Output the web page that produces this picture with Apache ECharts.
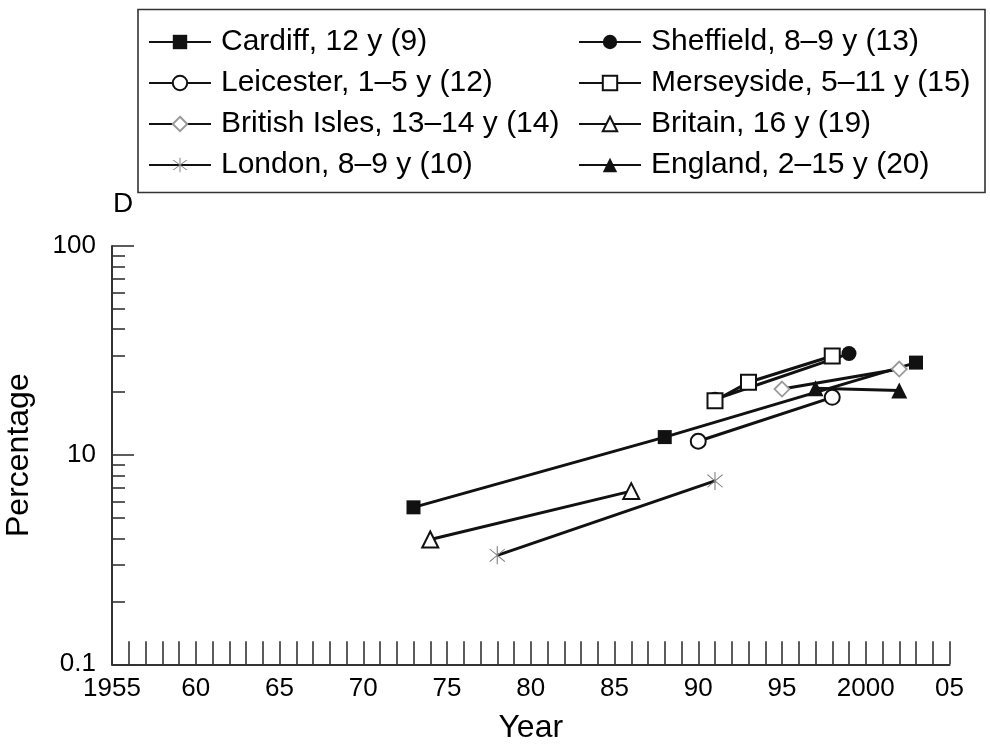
<!DOCTYPE html>
<html><head><meta charset="utf-8">
<script src="https://cdn.jsdelivr.net/npm/echarts@6/dist/echarts.min.js"></script>
<style>html,body{margin:0;padding:0;background:#fff}#c{width:990px;height:747px}</style>
</head><body><div id="c"></div>
<script>
// ---- data ----
const seriesNames = ['Cardiff, 12 y (9)', 'Sheffield, 8–9 y (13)', 'Leicester, 1–5 y (12)', 'Merseyside, 5–11 y (15)',
  'British Isles, 13–14 y (14)', 'Britain, 16 y (19)', 'London, 8–9 y (10)', 'England, 2–15 y (20)'];
const cardiffYears = [1973, 1988, 2003];
const cardiffValues = [5.63, 12.2, 27.7];
const sheffieldYears = [1991, 1999];
const sheffieldValues = [18.5, 30.6];
const leicesterYears = [1990, 1998];
const leicesterValues = [11.65, 18.9];
const merseysideYears = [1991, 1993, 1998];
const merseysideValues = [18.2, 22.3, 29.8];
const britishIslesYears = [1995, 2002];
const britishIslesValues = [20.7, 25.8];
const britainYears = [1974, 1986];
const britainValues = [3.95, 6.73];
const londonYears = [1978, 1991];
const londonValues = [3.32, 7.53];
const englandYears = [1997, 2002];
const englandValues = [20.9, 20.4];

const xTickYears = [1955, 1960, 1965, 1970, 1975, 1980, 1985, 1990, 1995, 2000, 2005];
const xTickLabels = ['1955', '60', '65', '70', '75', '80', '85', '90', '95', '2000', '05'];
const yTickValues = [1, 10, 100];
const yTickLabels = ['0.1', '10', '100'];
const yMinorTickValues = [2, 3, 4, 5, 6, 7, 8, 9, 20, 30, 40, 50, 60, 70, 80, 90];

// ---- chart ----
const FONT = 'Liberation Sans, Arial, sans-serif';
const BLACK = '#111';
const starPath = 'path://M47.5 0L52.5 0L52.5 100L47.5 100Z M16.8 13.2L86.8 83.2L83.2 86.8L13.2 16.8Z M83.2 13.2L86.8 16.8L16.8 86.8L13.2 83.2Z';

function pairs(xs, ys) { return xs.map((x, i) => [x, ys[i]]); }

function line(name, xs, ys, symbol, size, itemStyle) {
  return {
    name, type: 'line', data: pairs(xs, ys), symbol, symbolSize: size,
    showAllSymbol: true,
    lineStyle: { color: BLACK, width: 3 },
    itemStyle: Object.assign({ opacity: 1 }, itemStyle),
    emphasis: { disabled: true },
    z: 3
  };
}

const series = [
  line(seriesNames[0], cardiffYears, cardiffValues, 'rect', 14, { color: BLACK, borderColor: BLACK, borderWidth: 0 }),
  line(seriesNames[1], sheffieldYears, sheffieldValues, 'circle', 15, { color: BLACK, borderColor: BLACK, borderWidth: 0 }),
  line(seriesNames[2], leicesterYears, leicesterValues, 'circle', 15, { color: '#fff', borderColor: BLACK, borderWidth: 2 }),
  line(seriesNames[3], merseysideYears, merseysideValues, 'rect', 15, { color: '#fff', borderColor: BLACK, borderWidth: 2 }),
  line(seriesNames[4], britishIslesYears, britishIslesValues, 'diamond', 15, { color: '#fff', borderColor: '#999', borderWidth: 1.8 }),
  line(seriesNames[5], britainYears, britainValues, 'triangle', 16, { color: '#fff', borderColor: BLACK, borderWidth: 2 }),
  line(seriesNames[6], londonYears, londonValues, starPath, [16, 18], { color: '#808080', borderWidth: 0 }),
  line(seriesNames[7], englandYears, englandValues, 'triangle', 16, { color: BLACK, borderColor: BLACK, borderWidth: 0 })
];

const legendCommon = {
  orient: 'vertical', top: 27, padding: 0,
  itemWidth: 62, itemHeight: 18, itemGap: 11,
  selectedMode: false,
  textStyle: { fontSize: 30, fontFamily: FONT, color: '#000', lineHeight: 30, padding: [0, 0, 0, 5] }
};

const option = {
  animation: false,
  backgroundColor: '#fff',
  grid: { left: 112, right: 40.5, top: 246, bottom: 82.7, containLabel: false, outerBoundsMode: 'none' },
  legend: [
    Object.assign({ left: 148, data: [seriesNames[0], seriesNames[2], seriesNames[4], seriesNames[6]] }, legendCommon),
    Object.assign({ left: 578, data: [seriesNames[1], seriesNames[3], seriesNames[5], seriesNames[7]] }, legendCommon)
  ],
  xAxis: {
    type: 'value', min: 1955, max: 2005, interval: 1,
    name: 'Year', nameLocation: 'middle', nameGap: 48,
    nameTextStyle: { fontSize: 32, fontFamily: FONT, color: '#000' },
    axisLine: { lineStyle: { color: '#333', width: 2 } },
    axisTick: { inside: true, length: 23, lineStyle: { color: '#333', width: 1.6 } },
    axisLabel: {
      margin: 12, fontSize: 26, fontFamily: FONT, color: '#000',
      formatter: v => { const i = xTickYears.indexOf(v); return i >= 0 ? xTickLabels[i] : ''; }
    },
    splitLine: { show: false }
  },
  yAxis: [
    {
      type: 'log', logBase: 10, min: 1, max: 100,
      name: 'Percentage', nameLocation: 'middle', nameGap: 77, nameRotate: 90,
      nameTextStyle: { fontSize: 32, fontFamily: FONT, color: '#000' },
      axisLine: { show: true, lineStyle: { color: '#333', width: 2 } },
      axisTick: { show: true, inside: true, length: 22, lineStyle: { color: '#333', width: 1.6 } },
      axisLabel: {
        margin: 16, fontSize: 26, fontFamily: FONT, color: '#000',
        formatter: v => { const i = yTickValues.findIndex(t => Math.abs(t - v) < 1e-6); return i >= 0 ? yTickLabels[i] : ''; }
      },
      splitLine: { show: false }
    },
    {
      type: 'value', min: 0, max: 2, position: 'left',
      axisLine: { show: false },
      axisLabel: { show: false },
      splitLine: { show: false },
      axisTick: { show: true, inside: true, length: 13, customValues: yMinorTickValues.map(v => Math.log10(v)),
        lineStyle: { color: '#333', width: 1.6 } }
    }
  ],
  graphic: [
    { type: 'rect', shape: { x: 138, y: 9.5, width: 847, height: 183 }, style: { fill: 'none', stroke: '#333', lineWidth: 1.6 }, silent: true },
    { type: 'text', left: 113, top: 190, style: { text: 'D', font: '28px ' + FONT, fill: '#000' }, silent: true }
  ],
  series
};

const chart = echarts.init(document.getElementById('c'), null, { renderer: 'canvas' });
chart.setOption(option);
</script>
</body></html>
